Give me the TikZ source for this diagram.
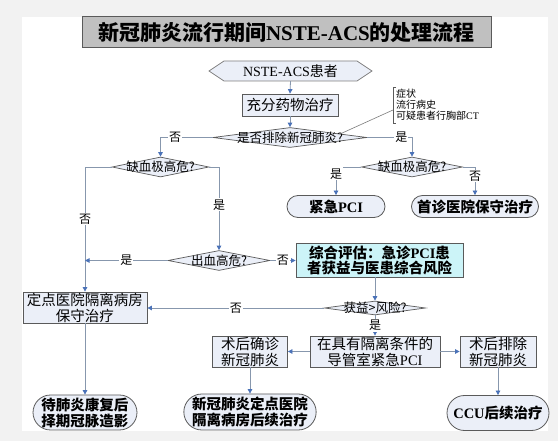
\documentclass[tikz,border=0pt]{standalone}
\usepackage{fontspec}
\setmainfont{Noto Sans CJK SC}
\newfontfamily\lat{Liberation Serif}
\usetikzlibrary{arrows.meta,shapes.geometric,shapes.misc,calc}
\definecolor{bggray}{HTML}{F2F2F2}
\definecolor{titlefill}{HTML}{C0C0C0}
\definecolor{boxfill}{HTML}{EBEFF8}
\definecolor{cyanfill}{HTML}{CCF4F8}
\definecolor{edgec}{HTML}{5A5A5A}
\definecolor{linec}{HTML}{8797AD}
\definecolor{tipc}{HTML}{4A72B8}
\newcommand\fsz[2]{\fontsize{#1}{#2}\selectfont}
\tikzset{
  boxn/.style={draw=edgec, fill=boxfill, line width=0.8pt, inner sep=0pt, align=center, font=\fsz{14.5}{16}},
  stad/.style={rounded rectangle, draw=edgec, fill=boxfill, line width=0.8pt, inner sep=0pt, align=center, font=\fsz{14.5}{16}\bfseries},
  dia/.style={diamond, draw=edgec, fill=boxfill, line width=0.7pt, inner sep=0pt},
  dtext/.style={font=\fsz{12.5}{13}, inner sep=0pt},
  conn/.style={draw=linec, line width=0.8pt},
  arr/.style={conn, -{Triangle[length=4.5pt,width=4.5pt,color=tipc]}},
  lbl/.style={fill=white, inner sep=1pt, font=\fsz{12}{12}},
}
\begin{document}
\begin{tikzpicture}[x=1pt,y=-1pt]
\useasboundingbox (0,0) rectangle (558,441);
\fill[bggray] (0,0) rectangle (558,441);
\fill[white] (22,17) rectangle (548,431);
% title
\node[draw=edgec, fill=titlefill, line width=1pt, minimum width=409pt, minimum height=31pt, inner sep=0pt,
  font=\fsz{21}{22}\bfseries] (title) at (286.5,32.5) {新冠肺炎流行期间{\lat NSTE-ACS}的处理流程};
% start hexagon
\draw[draw=gray, fill=boxfill, line width=0.8pt] (209,71) -- (224,61) -- (357,61) -- (372,71) -- (357,81) -- (224,81) -- cycle;
\node[minimum height=20pt, minimum width=163pt, inner sep=0pt, font=\fsz{14}{15}] (start) at (290.5,71) {{\lat NSTE-ACS}患者};
\node[boxn, minimum width=96pt, minimum height=22pt] (drug) at (290,105) {充分药物治疗};
% note
\draw[edgec, line width=0.6pt] (396,87) -- (393,87) -- (393,123) -- (396,123);
\node[anchor=west, align=left, inner sep=0pt, font=\fsz{10}{11}] (note) at (396,105) {症状\\流行病史\\可疑患者行胸部{\lat CT}};
\coordinate (noteb) at (393,110);
% diamonds
\node[dia, minimum width=154pt, minimum height=20pt, label={[dtext]center:是否排除新冠肺炎?}] (d1) at (290,137.5) {};
\node[dia, minimum width=97pt, minimum height=20pt, label={[dtext]center:缺血极高危?}] (dl) at (160.5,167) {};
\node[dia, minimum width=101pt, minimum height=20pt, label={[dtext]center:缺血极高危?}] (dr) at (412,167) {};
\node[dia, minimum width=102pt, minimum height=20pt, label={[dtext]center:出血高危?}] (d3) at (219,260.5) {};
\node[dia, minimum width=101pt, minimum height=14pt, label={[dtext]center:获益>风险?}] (d4) at (375,308) {};
% right top results
\node[stad, minimum width=98pt, minimum height=22pt] (pci1) at (336,206.5) {紧急{\lat PCI}};
\node[stad, minimum width=127pt, minimum height=22pt] (cons) at (475,206.5) {首诊医院保守治疗};
% evaluation
\node[draw=edgec, fill=cyanfill, line width=0.8pt, inner sep=0pt, align=center, minimum width=167pt, minimum height=34pt,
  font=\fsz{14.5}{15}\bfseries] (eval) at (379.5,260) {综合评估：急诊{\lat PCI}患\\者获益与医患综合风险};
% lower boxes
\node[boxn, minimum width=124pt, minimum height=31pt] (fixed) at (85,307.5) {定点医院隔离病房\\保守治疗};
\node[boxn, minimum width=130pt, minimum height=31pt] (pci) at (375,351.5) {在具有隔离条件的\\导管室紧急{\lat PCI}};
\node[boxn, minimum width=75pt, minimum height=31pt] (conf) at (250,351.5) {术后确诊\\新冠肺炎};
\node[boxn, minimum width=76pt, minimum height=31pt] (excl) at (498,351.5) {术后排除\\新冠肺炎};
% bottom stadiums
\node[stad, minimum width=100pt, minimum height=35pt] (end1) at (85,412.5) {待肺炎康复后\\择期冠脉造影};
\node[stad, minimum width=128pt, minimum height=36pt] (end2) at (250,412) {新冠肺炎定点医院\\隔离病房后续治疗};
\node[stad, minimum width=102pt, minimum height=35pt] (end3) at (498,413) {{\lat CCU}后续治疗};
% connectors
\draw[arr] (start.south) -- (drug.north);
\draw[arr] (drug.south) -- (d1.north);
\draw[conn, edgec!80, line width=0.6pt] (noteb) -- ($(d1.north)!0.65!(d1.east)$);
\draw[arr] (d1.west) -| node[lbl, pos=0.36] {否} (dl.north);
\draw[arr] (d1.east) -| node[lbl, pos=0.38] {是} (dr.north);
\draw[arr] (dl.west) -| node[lbl, pos=0.708] {否} (fixed.north);
\draw[arr] (dl.east) -| node[lbl, pos=0.727] {是} (d3.north);
\draw[arr] (d3.west) -- node[lbl] {是} (d3.west -| fixed.north);
\draw[arr] (d3.east) -- node[lbl] {否} (eval.west |- d3.east);
\draw[arr] (dr.west) -| node[lbl, pos=0.62] {是} (pci1.north);
\draw[arr] (dr.east) -| node[lbl, pos=0.66] {否} (cons.north);
\draw[arr] (eval.south -| d4.north) -- (d4.north);
\draw[arr] (d4.west) -- node[lbl] {否} (d4.west -| fixed.east);
\draw[arr] (d4.south) -- node[lbl] {是} (pci.north);
\draw[arr] (pci.west) -- (conf.east);
\draw[arr] (pci.east) -- (excl.west);
\draw[arr] (fixed.south) -- (end1.north);
\draw[arr] (conf.south) -- (end2.north);
\draw[arr] (excl.south) -- (end3.north);
\end{tikzpicture}
\end{document}
